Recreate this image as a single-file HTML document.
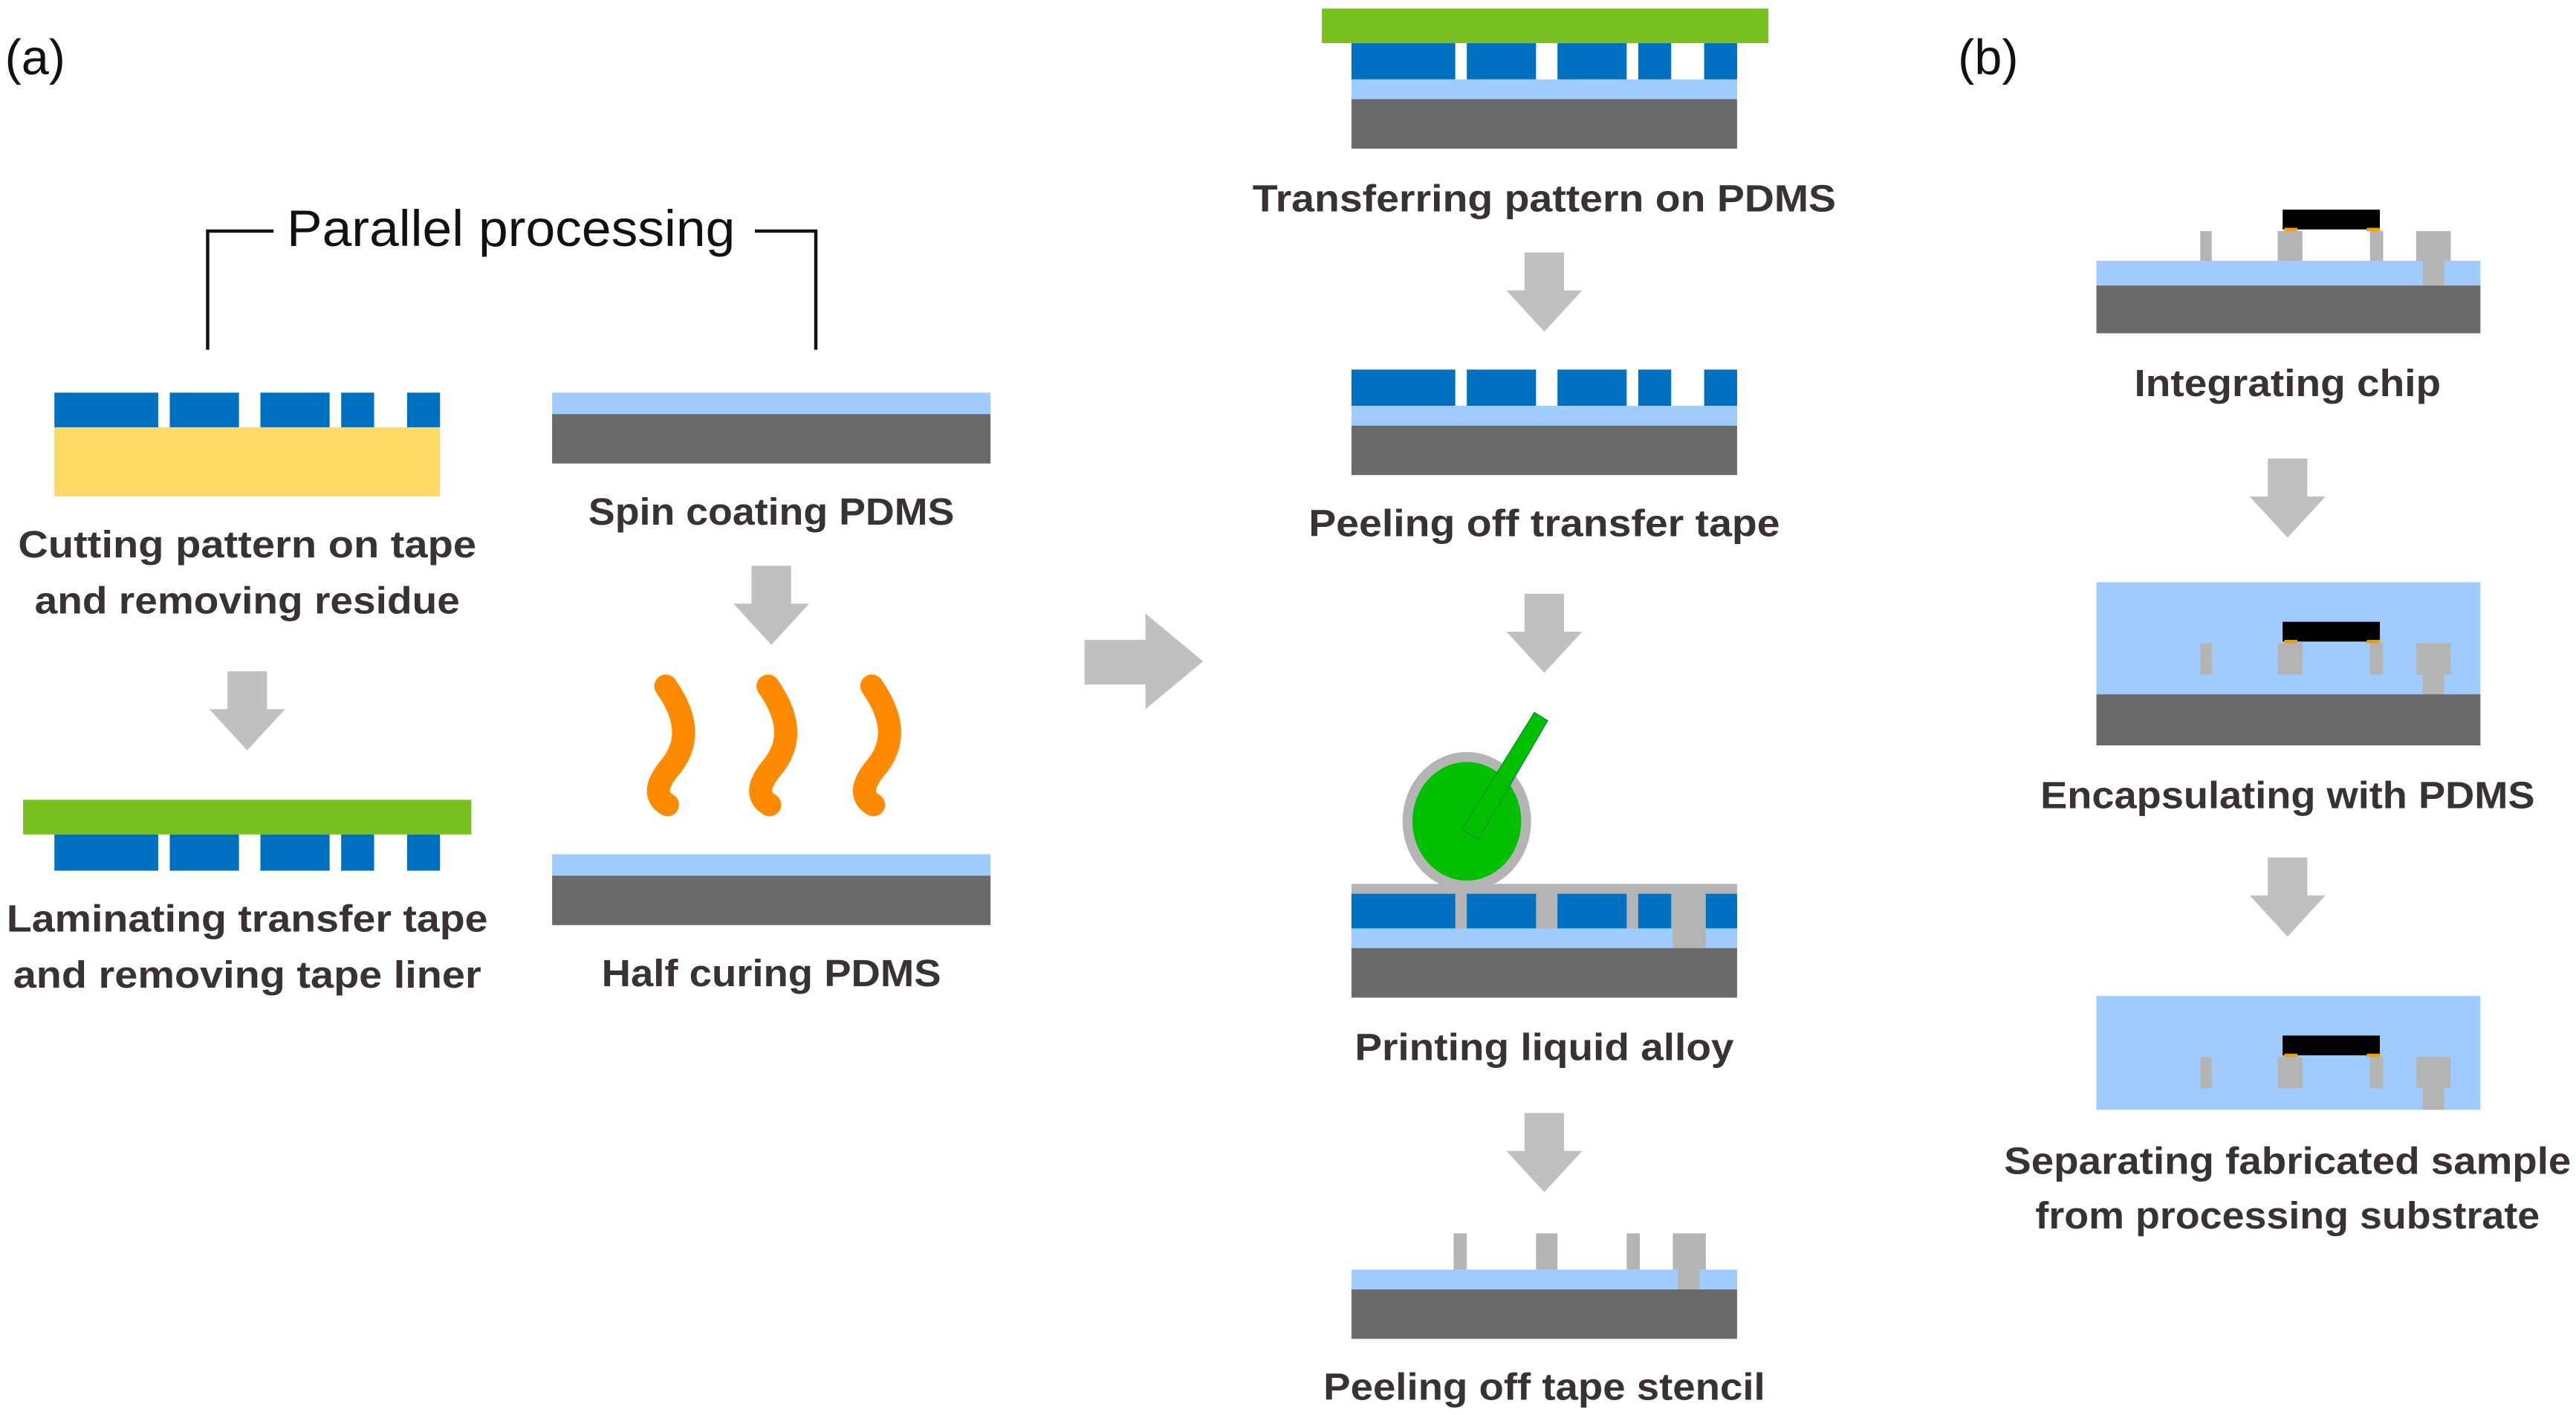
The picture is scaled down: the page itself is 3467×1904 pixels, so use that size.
<!DOCTYPE html>
<html><head><meta charset="utf-8"><style>
html,body{margin:0;padding:0;background:#fff;width:3467px;height:1904px;overflow:hidden;}
svg{display:block;}
text{font-family:"Liberation Sans",sans-serif;}
.t{font-weight:bold;font-size:23px;fill:#3a3232;text-anchor:middle;}
</style></head><body>
<svg width="3467" height="1904" viewBox="0 0 1563 858" xmlns="http://www.w3.org/2000/svg">
<defs>
<g id="ad"><polygon points="-12,0 12,0 12,23 23,23 0,48 -23,23 -12,23" fill="#c0c0c0"/></g>
<g id="pat">
<rect x="0" y="0" width="63" height="22" fill="#0070c0"/>
<rect x="70" y="0" width="42" height="22" fill="#0070c0"/>
<rect x="125" y="0" width="42" height="22" fill="#0070c0"/>
<rect x="174" y="0" width="20" height="22" fill="#0070c0"/>
<rect x="214" y="0" width="20" height="22" fill="#0070c0"/>
</g>
<g id="chipset">
<rect x="1335" y="0" width="7" height="19" fill="#b4b4b4"/>
<rect x="1382" y="0" width="15" height="19" fill="#b4b4b4"/>
<rect x="1438" y="0" width="8" height="19" fill="#b4b4b4"/>
<rect x="1466" y="0" width="21" height="19" fill="#b4b4b4"/>
<rect x="1385" y="-13" width="59" height="12" fill="#000"/>
<rect x="1386" y="-2" width="8" height="2" fill="#f0a000"/>
<rect x="1436" y="-2" width="8" height="2" fill="#f0a000"/>
</g>
</defs>
<text x="3" y="45" font-size="30" fill="#111">(a)</text>
<text x="1188" y="45" font-size="30" fill="#111">(b)</text>

<text x="310" y="149" font-size="31" text-anchor="middle" fill="#111" textLength="272" lengthAdjust="spacingAndGlyphs">Parallel processing</text>
<polyline points="126,212 126,140 166,140" fill="none" stroke="#111" stroke-width="2"/>
<polyline points="458,140 495,140 495,212" fill="none" stroke="#111" stroke-width="2"/>

<use href="#pat" x="33" y="238"/>
<rect x="33" y="259" width="234" height="42" fill="#ffd966"/>
<text class="t" x="150" y="338" textLength="278" lengthAdjust="spacingAndGlyphs">Cutting pattern on tape</text>
<text class="t" x="150" y="372" textLength="258" lengthAdjust="spacingAndGlyphs">and removing residue</text>
<use href="#ad" x="150" y="407"/>

<rect x="14" y="485" width="272" height="21" fill="#78c11e"/>
<use href="#pat" x="33" y="506"/>
<text class="t" x="150" y="565" textLength="292" lengthAdjust="spacingAndGlyphs">Laminating transfer tape</text>
<text class="t" x="150" y="599" textLength="284" lengthAdjust="spacingAndGlyphs">and removing tape liner</text>

<rect x="335" y="238" width="266" height="13" fill="#a0cbff"/>
<rect x="335" y="251" width="266" height="30" fill="#6a6a6a"/>
<text class="t" x="468" y="318" textLength="222" lengthAdjust="spacingAndGlyphs">Spin coating PDMS</text>
<use href="#ad" x="468" y="343"/>
<g fill="none" stroke="#ff8a00" stroke-width="14" stroke-linecap="round">
<path d="M404,416 C418,436 418,452 406,466 C397,477 398,484 405,488"/>
<path d="M466,416 C480,436 480,452 468,466 C459,477 460,484 467,488"/>
<path d="M529,416 C543,436 543,452 531,466 C522,477 523,484 530,488"/>
</g>
<rect x="335" y="518" width="266" height="13" fill="#a0cbff"/>
<rect x="335" y="531" width="266" height="30" fill="#6a6a6a"/>
<text class="t" x="468" y="598" textLength="206" lengthAdjust="spacingAndGlyphs">Half curing PDMS</text>

<polygon points="658,388 695,388 695,372 730,401 695,430 695,415 658,415" fill="#c0c0c0"/>

<rect x="802" y="5" width="271" height="21" fill="#78c11e"/>
<use href="#pat" x="820" y="26"/>
<rect x="820" y="48" width="234" height="12" fill="#a0cbff"/>
<rect x="820" y="60" width="234" height="30" fill="#6a6a6a"/>
<text class="t" x="937" y="128" textLength="354" lengthAdjust="spacingAndGlyphs">Transferring pattern on PDMS</text>
<use href="#ad" x="937" y="153"/>

<use href="#pat" x="820" y="224"/>
<rect x="820" y="246" width="234" height="12" fill="#a0cbff"/>
<rect x="820" y="258" width="234" height="30" fill="#6a6a6a"/>
<text class="t" x="937" y="325" textLength="286" lengthAdjust="spacingAndGlyphs">Peeling off transfer tape</text>
<use href="#ad" x="937" y="360"/>

<rect x="820" y="536" width="234" height="40" fill="#b4b4b4"/>
<use href="#pat" x="820" y="542"/>
<rect x="820" y="563" width="234" height="12" fill="#a0cbff"/>
<rect x="1015" y="542" width="20" height="33" fill="#b4b4b4"/>
<rect x="1018" y="563" width="13" height="12" fill="#b4b4b4"/>
<rect x="820" y="575" width="234" height="30" fill="#6a6a6a"/>
<ellipse cx="890" cy="498" rx="36" ry="39" fill="#00c000" stroke="#b4b4b4" stroke-width="6"/>
<polygon points="931,432 939,437 897,509 887,503" fill="#00c000" stroke="#00902a" stroke-width="0.6"/>
<text class="t" x="937" y="643" textLength="230" lengthAdjust="spacingAndGlyphs">Printing liquid alloy</text>
<use href="#ad" x="937" y="675"/>

<rect x="882" y="748" width="8" height="22" fill="#b4b4b4"/>
<rect x="932" y="748" width="13" height="22" fill="#b4b4b4"/>
<rect x="987" y="748" width="8" height="22" fill="#b4b4b4"/>
<rect x="1015" y="748" width="20" height="22" fill="#b4b4b4"/>
<rect x="820" y="770" width="234" height="12" fill="#a0cbff"/>
<rect x="1018" y="770" width="13" height="12" fill="#b4b4b4"/>
<rect x="820" y="782" width="234" height="30" fill="#6a6a6a"/>
<text class="t" x="937" y="849" textLength="268" lengthAdjust="spacingAndGlyphs">Peeling off tape stencil</text>

<use href="#chipset" y="140"/>
<rect x="1272" y="158" width="233" height="15" fill="#a0cbff"/>
<rect x="1470" y="158" width="13" height="15" fill="#b4b4b4"/>
<rect x="1272" y="173" width="233" height="29" fill="#6a6a6a"/>
<text class="t" x="1388" y="240" textLength="186" lengthAdjust="spacingAndGlyphs">Integrating chip</text>
<use href="#ad" x="1388" y="278"/>

<rect x="1272" y="353" width="233" height="69" fill="#a0cbff"/>
<use href="#chipset" y="390"/>
<rect x="1470" y="409" width="13" height="13" fill="#b4b4b4"/>
<rect x="1272" y="421" width="233" height="31" fill="#6a6a6a"/>
<text class="t" x="1388" y="490" textLength="300" lengthAdjust="spacingAndGlyphs">Encapsulating with PDMS</text>
<use href="#ad" x="1388" y="520"/>

<rect x="1272" y="604" width="233" height="69" fill="#a0cbff"/>
<use href="#chipset" y="641"/>
<rect x="1470" y="660" width="13" height="13" fill="#b4b4b4"/>
<text class="t" x="1388" y="712" textLength="344" lengthAdjust="spacingAndGlyphs">Separating fabricated sample</text>
<text class="t" x="1388" y="745" textLength="306" lengthAdjust="spacingAndGlyphs">from processing substrate</text>
</svg>
</body></html>
